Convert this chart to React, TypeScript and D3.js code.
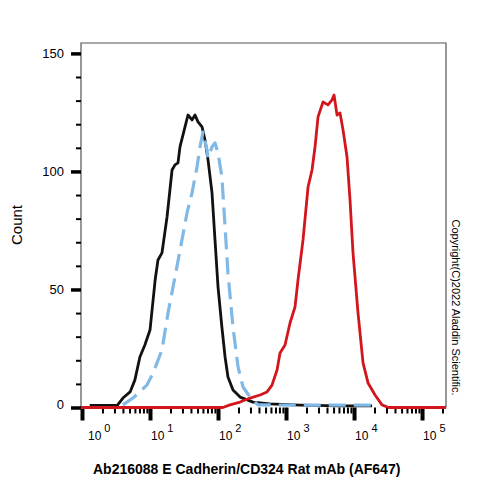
import React, { useRef, useEffect } from 'react';
import * as d3 from 'd3';

// Unstained cells (black)
const blankIntensity = [1.3, 3.3, 4.0, 5.1, 6.0, 7.1, 8.4, 10, 11.9, 13.1, 15, 17.8, 21.1, 23.3, 25.8, 27.6, 32.7, 36.2, 41.5, 45.9, 50.8, 58.2, 64.4, 71.3, 81.6, 90.3, 100, 114, 127, 140, 166, 211, 327, 582, 1607, 6220, 18400];
const blankCount = [0.9, 0.9, 4.0, 6.6, 11.7, 21.4, 26.5, 32.8, 54.0, 62.5, 65.5, 80.7, 100.6, 102.8, 103.6, 110.4, 118.9, 123.9, 121.8, 123.9, 121.0, 118.9, 113.3, 104.9, 90.9, 71.0, 51.1, 34.1, 21.4, 12.9, 7.4, 4.4, 2.3, 1.5, 1.0, 0.7, 0.7];

// Isotype control (blue, dashed)
const isotypeIntensity = [4.0, 5.6, 9.0, 11.1, 15.0, 18.4, 23.3, 29.5, 35.0, 41.5, 49.1, 54.3, 60.1, 68.9, 71.3, 81.6, 90.3, 100, 114, 127, 140, 166, 197, 233, 296, 387, 1600, 6200, 18400];
const isotypeCount = [1.1, 4.0, 9.5, 14.6, 24.4, 40.0, 55.3, 71.0, 82.4, 90.9, 101.9, 110.4, 116.7, 109.1, 105.7, 110.4, 112.1, 107.8, 97.7, 76.5, 57.0, 34.1, 17.2, 8.7, 4.4, 1.1, 1.0, 1.0, 1.0];

// E Cadherin/CD324 AF647 stained (red)
const stainedIntensity = [0.967, 118, 150, 211, 296, 415, 526, 622, 738, 816, 967, 1145, 1356, 1500, 1778, 2108, 2412, 2669, 2956, 3499, 4148, 4746, 5080, 5623, 6220, 6887, 7889, 8730, 9660, 11450, 13560, 16070, 20370, 25800, 32000, 225000];
const stainedCount = [0, 0, 1.1, 2.3, 4.0, 5.3, 6.6, 9.5, 15.9, 23.1, 26.5, 35.8, 42.6, 54.0, 71.0, 93.4, 100.6, 110.4, 123.1, 129.4, 128.2, 130.3, 132.4, 123.9, 124.8, 117.6, 106.1, 87.9, 65.5, 40.0, 18.9, 10.4, 5.3, 1.1, 0, 0];

const countMajorTicks = [0, 50, 100, 150];
const countMinorTicks = [10, 20, 30, 40, 60, 70, 80, 90, 110, 120, 130, 140];
const decadeTicks = [1, 10, 100, 1000, 10000, 100000];
const decadeExponents = ['0', '1', '2', '3', '4', '5'];

const FONT = '"Liberation Sans", Arial, sans-serif';

const FlowHistogram = () => {
  const svgRef = useRef<SVGSVGElement>(null);

  useEffect(() => {
    const svgElement = svgRef.current;
    if (!svgElement) return;
    d3.select(svgElement).selectAll('*').remove();

    const width = 500;
    const height = 500;
    const left = 81, right = 446, top = 43, bottom = 407.5;

    const svg = d3.select(svgElement)
      .attr('width', width)
      .attr('height', height)
      .attr('viewBox', `0 0 ${width} ${height}`);

    const x = d3.scaleLog().domain([0.967, 225000]).range([left, right]);
    const y = d3.scaleLinear().domain([0, 154.4]).range([bottom, top]);

    // frame
    svg.append('path')
      .attr('d', `M${left},${bottom}V${top}H${right}V${bottom}`)
      .attr('fill', 'none')
      .attr('stroke', '#555')
      .attr('stroke-width', 1.2);

    // y axis: major + minor ticks
    const yMajor = svg.append('g')
      .attr('transform', `translate(${left},0)`)
      .call(d3.axisLeft(y).tickValues(countMajorTicks).tickSize(10).tickFormat(() => ''));
    yMajor.select('.domain').remove();
    yMajor.selectAll('line').attr('stroke', '#000').attr('stroke-width', 3.5);

    const yMinor = svg.append('g')
      .attr('transform', `translate(${left},0)`)
      .call(d3.axisLeft(y).tickValues(countMinorTicks).tickSize(5).tickFormat(() => ''));
    yMinor.select('.domain').remove();
    yMinor.selectAll('line').attr('stroke', '#000').attr('stroke-width', 2);

    svg.append('g')
      .selectAll('text')
      .data(countMajorTicks)
      .join('text')
      .attr('x', 64)
      .attr('y', d => y(d) + (d === 0 ? 1 : 5))
      .attr('text-anchor', 'end')
      .style('font-family', FONT)
      .style('font-size', '13px')
      .text(d => d);

    // x axis: decades + minor ticks
    const minorX = x.ticks().filter(v => !decadeTicks.includes(v) && v >= 1);
    const xMinor = svg.append('g')
      .attr('transform', `translate(0,${bottom})`)
      .call(d3.axisBottom(x).tickValues(minorX).tickSize(6).tickFormat(() => ''));
    xMinor.select('.domain').remove();
    xMinor.selectAll('line').attr('stroke', '#000').attr('stroke-width', 2);

    const xMajor = svg.append('g')
      .attr('transform', `translate(0,${bottom})`)
      .call(d3.axisBottom(x).tickValues(decadeTicks).tickSize(13).tickFormat(() => ''));
    xMajor.select('.domain').remove();
    xMajor.selectAll('line').attr('stroke', '#000').attr('stroke-width', 4);

    const xLabels = svg.append('g')
      .selectAll('text')
      .data(decadeTicks)
      .join('text')
      .attr('x', (d, i) => x(d) + (i === 0 ? 6 : 1))
      .attr('y', 440)
      .style('font-family', FONT)
      .style('font-size', '12px');
    xLabels.append('tspan').text('10');
    xLabels.append('tspan')
      .attr('dx', 3)
      .attr('dy', -8)
      .style('font-size', '11px')
      .text((d, i) => decadeExponents[i]);

    // histograms
    const line = d3.line<[number, number]>()
      .x(d => x(d[0]))
      .y(d => y(d[1]));

    const series = [
      { xs: blankIntensity, ys: blankCount, color: '#111', width: 2.8, dash: null },
      { xs: isotypeIntensity, ys: isotypeCount, color: '#80b8e6', width: 3.2, dash: '17,8' },
      { xs: stainedIntensity, ys: stainedCount, color: '#d2161c', width: 2.8, dash: null },
    ];

    series.forEach(s => {
      const pts = s.xs.map((v, i) => [v, s.ys[i]] as [number, number]);
      svg.append('path')
        .datum(pts)
        .attr('d', line)
        .attr('fill', 'none')
        .attr('stroke', s.color)
        .attr('stroke-width', s.width)
        .attr('stroke-linejoin', 'round')
        .attr('stroke-dasharray', s.dash);
    });

    // axis titles
    svg.append('text')
      .attr('transform', 'translate(22,225) rotate(-90)')
      .attr('text-anchor', 'middle')
      .style('font-family', FONT)
      .style('font-size', '15px')
      .text('Count');

    svg.append('text')
      .attr('x', 93)
      .attr('y', 473.5)
      .style('font-family', FONT)
      .style('font-size', '14px')
      .style('font-weight', 'bold')
      .text('Ab216088 E Cadherin/CD324 Rat mAb (AF647)');

    svg.append('text')
      .attr('transform', 'translate(456,307.5) rotate(90)')
      .attr('text-anchor', 'middle')
      .attr('dominant-baseline', 'central')
      .style('font-family', FONT)
      .style('font-size', '11px')
      .text('Copyright(C)2022 Aladdin Scientific.');
  }, []);

  return <svg ref={svgRef} style={{ position: 'absolute', left: 0, top: 0, background: '#fff' }} />;
};

export default function App() {
  return <FlowHistogram />;
}
